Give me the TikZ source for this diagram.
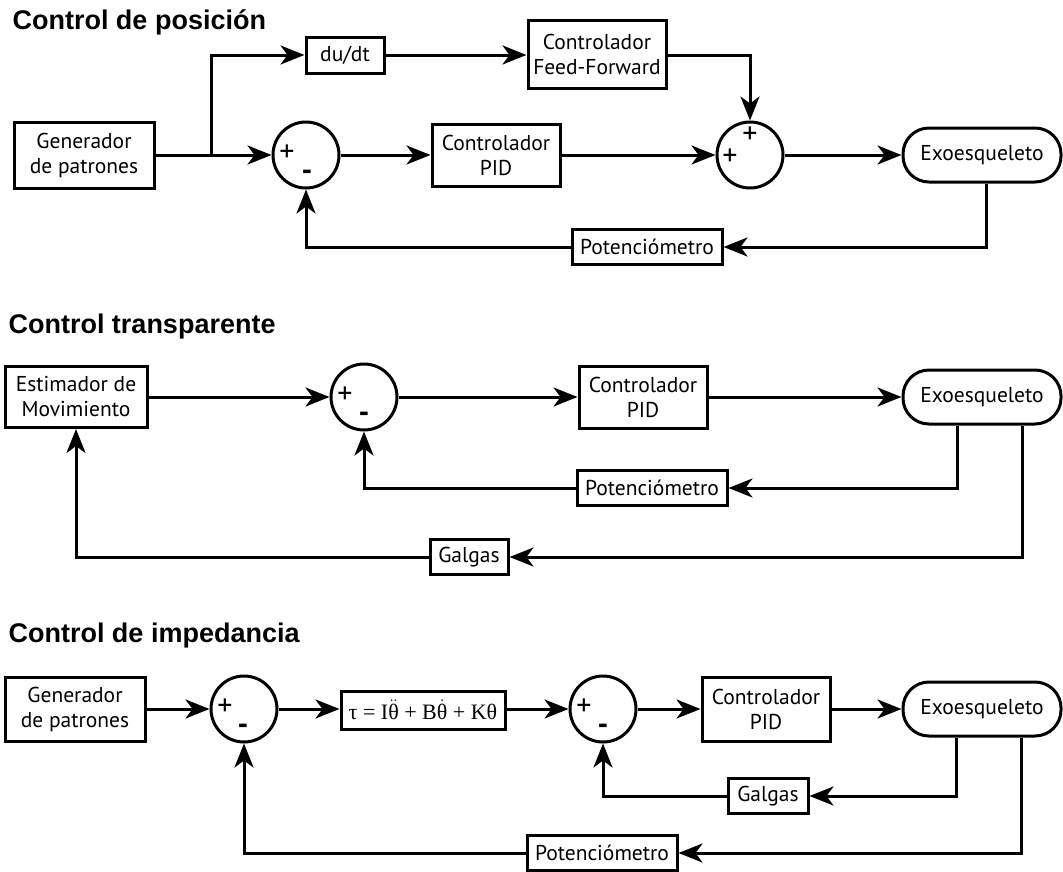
\documentclass[tikz,border=0pt]{standalone}
\usepackage{fontspec}
\setmainfont{PT Sans}
\newfontfamily\titlefont{Liberation Sans}
\newfontfamily\formfont{Liberation Serif}
\usetikzlibrary{arrows.meta}
\begin{document}
\begin{tikzpicture}[x=1pt,y=-1pt,
  every node/.style={font=\fontsize{21.5}{25}\selectfont, align=center},
  blk/.style={draw, line width=3pt, inner sep=0pt},
  plant/.style={draw, line width=3pt, rounded corners=26pt, minimum width=158pt, minimum height=54pt, inner sep=0pt},
  sumj/.style={circle, draw, line width=3pt, minimum size=66pt, inner sep=0pt},
  conn/.style={line width=3pt, -{Stealth[length=24pt,width=19pt,inset=7pt]}},
  wire/.style={line width=3pt},
  ttl/.style={anchor=west, font=\titlefont\bfseries\fontsize{27}{31}\selectfont},
  sgnp/.style={font=\fontsize{30}{30}\selectfont, inner sep=0pt},
  sgnm/.style={font=\fontsize{30}{30}\selectfont\bfseries, inner sep=0pt}]
\useasboundingbox (0,0) rectangle (1063,871);

% ---------- Control de posicion ----------
\node[ttl] (t1) at (9,22) {Control de posición};
\node[blk, minimum width=140pt, minimum height=66pt] (gen1) at (84,155) {Generador\\de patrones};
\node[blk, minimum width=78pt, minimum height=36pt] (dudt) at (345,55) {du/dt};
\node[blk, minimum width=138pt, minimum height=68pt] (ff) at (597,54) {Controlador\\Feed-Forward};
\node[sumj] (s1) at (306,155) {};
\node[blk, minimum width=128pt, minimum height=62pt] (pid1) at (496,155) {Controlador\\PID};
\node[sumj] (s2) at (750,155) {};
\node[plant] (exo1) at (982,155) {Exoesqueleto};
\node[blk, minimum width=150pt, minimum height=35pt] (pot1) at (647,247) {Potenciómetro};
\node[sgnp] (s1p) at (287,153) {+};
\node[sgnm] (s1m) at (307,175) {-};
\node[sgnp] (s2p1) at (750,135) {+};
\node[sgnp] (s2p2) at (730,157) {+};
\coordinate (br1) at (211,155);

\draw[wire] (gen1.east) -- (br1);
\draw[conn] (br1) -- (s1.west);
\draw[conn] (br1) |- (dudt.west);
\draw[conn] (dudt.east) -- (ff.west |- dudt.east);
\draw[conn] (ff.east |- dudt.east) -| (s2.north);
\draw[conn] (s1.east) -- (pid1.west);
\draw[conn] (pid1.east) -- (s2.west);
\draw[conn] (s2.east) -- (exo1.west);
\draw[conn] ([xshift=4pt]exo1.south) |- (pot1.east);
\draw[conn] (pot1.west) -| (s1.south);

% ---------- Control transparente ----------
\node[ttl] (t2) at (5,327) {Control transparente};
\node[blk, minimum width=142pt, minimum height=61pt] (est) at (76,397) {Estimador de\\Movimiento};
\node[sumj] (s3) at (364,397) {};
\node[blk, minimum width=128pt, minimum height=62pt] (pid2) at (643,397) {Controlador\\PID};
\node[plant] (exo2) at (982,397) {Exoesqueleto};
\node[blk, minimum width=150pt, minimum height=35pt] (pot2) at (652,488) {Potenciómetro};
\node[blk, minimum width=78pt, minimum height=35pt] (gal2) at (469,557) {Galgas};
\node[sgnp] (s3p) at (345,395) {+};
\node[sgnm] (s3m) at (364,417) {-};

\draw[conn] (est.east) -- (s3.west);
\draw[conn] (s3.east) -- (pid2.west);
\draw[conn] (pid2.east) -- (exo2.west);
\draw[conn] ([xshift=-25pt]exo2.south) |- (pot2.east);
\draw[conn] (pot2.west) -| (s3.south);
\draw[conn] ([xshift=40pt]exo2.south) |- (gal2.east);
\draw[conn] (gal2.west) -| (est.south);

% ---------- Control de impedancia ----------
\node[ttl] (t3) at (5,636) {Control de impedancia};
\node[blk, minimum width=140pt, minimum height=64pt] (gen3) at (75,709) {Generador\\de patrones};
\node[sumj] (s4) at (244,709) {};
\node[blk, minimum width=164pt, minimum height=38pt, font=\formfont\fontsize{22}{25}\selectfont] (form) at (423,710)
  {τ = I$\ddot{\hbox{θ}}$ + B$\dot{\hbox{θ}}$ + Kθ};
\node[sgnp] (s4p) at (225,707) {+};
\node[sgnm] (s4m) at (243,729) {-};
\node[sumj] (s5) at (603,709) {};
\node[blk, minimum width=128pt, minimum height=64pt] (pid3) at (766,709) {Controlador\\PID};
\node[plant] (exo3) at (982,709) {Exoesqueleto};
\node[blk, minimum width=80pt, minimum height=35pt] (gal3) at (768,796) {Galgas};
\node[blk, minimum width=150pt, minimum height=35pt] (pot3) at (602,853) {Potenciómetro};
\node[sgnp] (s5p) at (584,707) {+};
\node[sgnm] (s5m) at (603,729) {-};

\draw[conn] (gen3.east) -- (s4.west);
\draw[conn] (s4.east) -- (form.west |- s4.east);
\draw[conn] (form.east |- s5.west) -- (s5.west);
\draw[conn] (s5.east) -- (pid3.west);
\draw[conn] (pid3.east) -- (exo3.west);
\draw[conn] ([xshift=-26pt]exo3.south) |- (gal3.east);
\draw[conn] (gal3.west) -| (s5.south);
\draw[conn] ([xshift=39pt]exo3.south) |- (pot3.east);
\draw[conn] (pot3.west) -| (s4.south);
\end{tikzpicture}
\end{document}
